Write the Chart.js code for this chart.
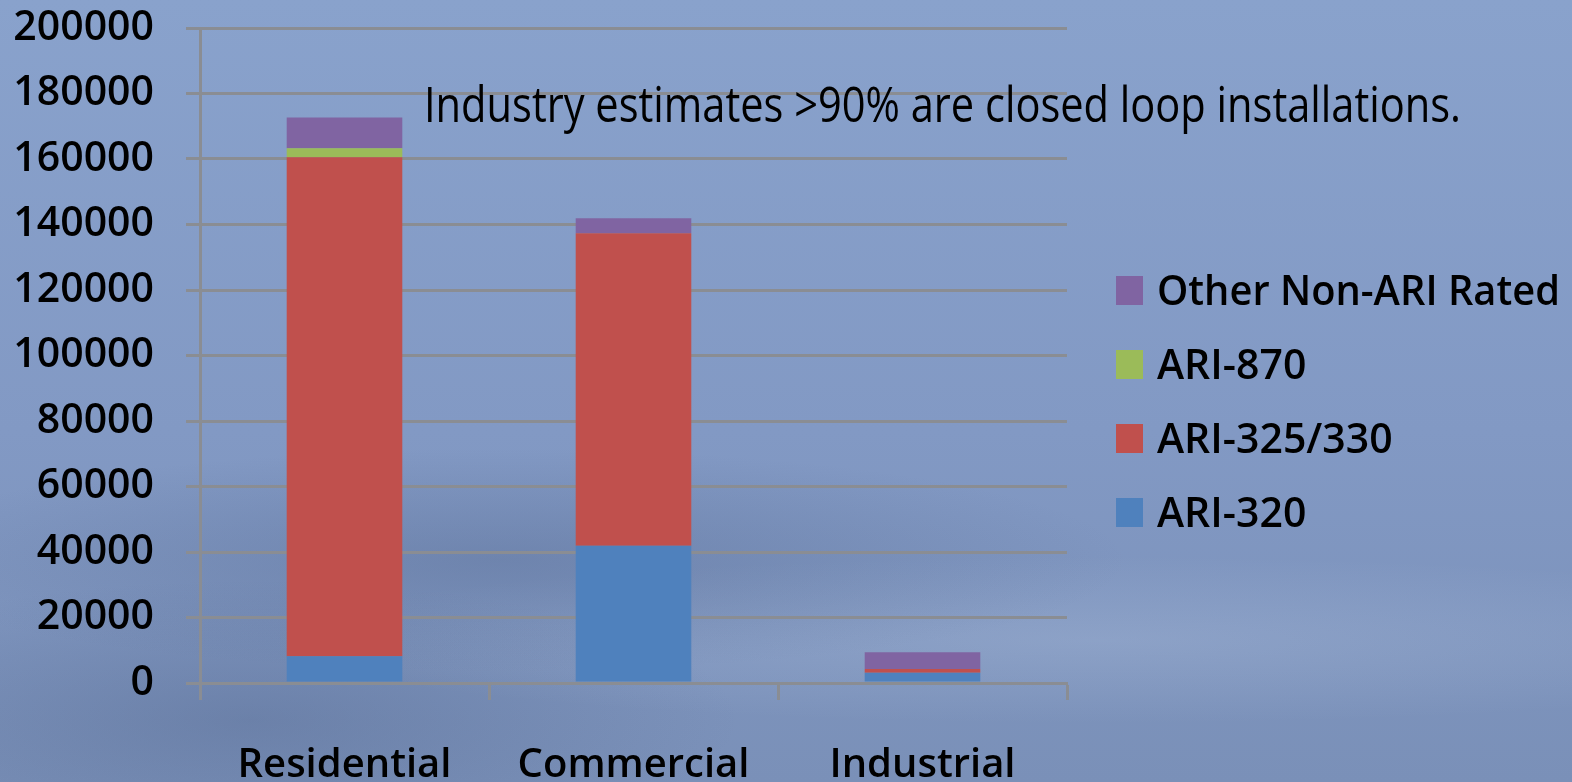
<!DOCTYPE html>
<html>
<head>
<meta charset="utf-8">
<script src="https://cdn.jsdelivr.net/npm/chart.js@4"></script>
<style>
  html, body { margin: 0; padding: 0; }
  body {
    width: 1572px;
    height: 782px;
    overflow: hidden;
    background:
      radial-gradient(ellipse 900px 160px at 500px 560px, rgba(60,80,120,0.25), rgba(60,80,120,0) 70%),
      radial-gradient(ellipse 1200px 120px at 1100px 640px, rgba(210,225,245,0.18), rgba(210,225,245,0) 70%),
      radial-gradient(ellipse 700px 200px at 250px 720px, rgba(70,90,130,0.3), rgba(70,90,130,0) 70%),
      linear-gradient(180deg, #89a2cc 0%, #8299c4 55%, #7a90b8 100%);
  }
  #wrap { position: relative; width: 1572px; height: 782px; }
</style>
</head>
<body>
<div id="wrap"><canvas id="chart"></canvas></div>
<script>
const categories = ["Residential", "Commercial", "Industrial"];
const ari320 = [8200, 41900, 3100];
const ari325 = [152300, 95400, 1200];
const ari870 = [2800, 0, 0];
const otherNonAri = [9400, 4600, 5100];
const yTicks = [0, 20000, 40000, 60000, 80000, 100000, 120000, 140000, 160000, 180000, 200000];
const note = "Industry estimates >90% are closed loop installations.";

const gridColor = "#8a8d93";
const fontFamily = "'Open Sans', 'DejaVu Sans', sans-serif";

// legend drawn on the right, top item = last dataset
const sideLegend = {
  id: "sideLegend",
  afterDraw(chart) {
    const ctx = chart.ctx;
    const sets = chart.data.datasets.slice().reverse();
    ctx.save();
    ctx.font = "600 41px " + fontFamily;
    ctx.textAlign = "left";
    ctx.textBaseline = "alphabetic";
    sets.forEach((ds, i) => {
      const cy = 290 + i * 74;
      ctx.fillStyle = ds.backgroundColor;
      ctx.fillRect(1116, cy - 14, 27, 29);
      ctx.fillStyle = "#000";
      ctx.fillText(ds.label, 1157, cy + 15, 403);
    });
    ctx.restore();
  },
};

const noteText = {
  id: "noteText",
  afterDatasetsDraw(chart) {
    const ctx = chart.ctx;
    ctx.save();
    ctx.font = "50px " + fontFamily;
    ctx.fillStyle = "#000";
    ctx.textAlign = "left";
    ctx.textBaseline = "alphabetic";
    ctx.fillText(note, 424, 122, 1037);
    ctx.restore();
  },
};

const ctx = document.getElementById("chart").getContext("2d");
new Chart(ctx, {
  type: "bar",
  data: {
    labels: categories,
    datasets: [
      { label: "ARI-320", data: ari320, backgroundColor: "#4f81bd" },
      { label: "ARI-325/330", data: ari325, backgroundColor: "#c0504d" },
      { label: "ARI-870", data: ari870, backgroundColor: "#9bbb59" },
      { label: "Other Non-ARI Rated", data: otherNonAri, backgroundColor: "#8064a2" },
    ],
  },
  options: {
    responsive: true,
    maintainAspectRatio: false,
    animation: false,
    layout: {
      padding: { top: 28, right: 505, left: 0, bottom: 0 },
    },
    datasets: {
      bar: {
        categoryPercentage: 1,
        barPercentage: 0.4,
        borderWidth: 0,
      },
    },
    plugins: {
      legend: { display: false },
      tooltip: { enabled: false },
    },
    scales: {
      x: {
        stacked: true,
        offset: true,
        afterFit: (scale) => { scale.height = 99; },
        grid: {
          offset: true,
          drawOnChartArea: false,
          drawTicks: true,
          tickLength: 17,
          tickWidth: 3,
          tickColor: gridColor,
        },
        border: { display: true, color: gridColor, width: 3 },
        ticks: {
          color: "#000",
          padding: 42,
          font: { family: fontFamily, size: 40, weight: "600" },
        },
      },
      y: {
        stacked: true,
        min: 0,
        max: 200000,
        afterFit: (scale) => {
          scale.width = 200;
          scale.paddingTop = 0;
          scale.paddingBottom = 0;
        },
        afterBuildTicks: (scale) => {
          scale.ticks = yTicks.map((v) => ({ value: v }));
        },
        grid: {
          color: gridColor,
          lineWidth: 3,
          tickLength: 14,
        },
        border: { display: true, color: gridColor, width: 3 },
        ticks: {
          color: "#000",
          padding: 32,
          font: { family: fontFamily, size: 41, weight: "600" },
          callback: (value) => String(value),
        },
      },
    },
  },
  plugins: [sideLegend, noteText],
});
</script>
</body>
</html>
